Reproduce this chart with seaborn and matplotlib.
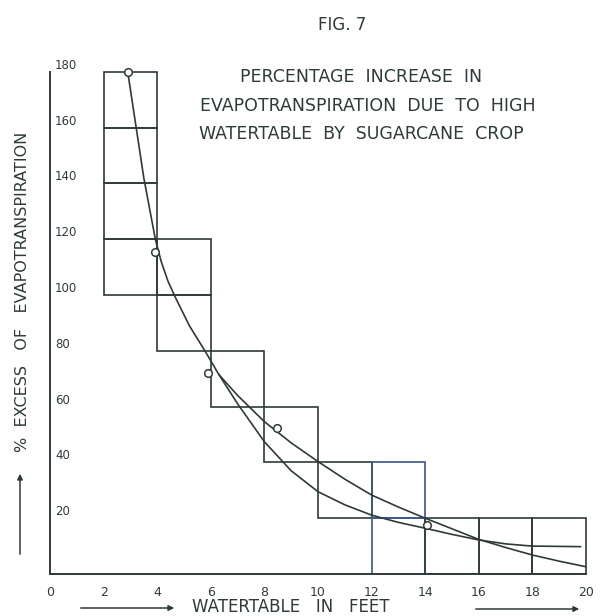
import matplotlib
matplotlib.use("Agg")
import matplotlib.pyplot as plt
import seaborn as sns
import pandas as pd

# Range boxes: each 2-ft band of watertable depth with its low/high % excess
box_left = [2, 4, 6, 8, 10, 12, 14, 16, 18]
box_low = [100, 80, 60, 40, 20, 0, 0, 0, 0]
box_high = [180, 120, 80, 60, 40, 40, 20, 20, 20]
cell = 20

# Observed points
obs_x = [2.9, 3.92, 5.91, 8.46, 14.05]
obs_y = [180, 115.5, 72.2, 52.2, 17.6]

# Fitted curve that levels off
curve_a_x = [2.9, 3.2, 3.5, 3.93, 4.15, 4.4, 4.66, 5.2, 5.78, 6.3, 7.0, 8.0,
             9.0, 10.0, 11.0, 12.0, 13.0, 14.0, 15.0, 16.0, 17.0, 18.0, 19.0,
             19.8]
curve_a_y = [180, 161, 142, 120, 112, 105, 99.5, 89, 80, 71.5, 61, 47.4,
             37, 29.5, 24.8, 21.1, 18.5, 16.4, 14.2, 12.2, 10.8, 10.0, 9.9,
             9.8]

# Fitted curve that runs down to the axis
curve_b_x = [6.3, 7.0, 8.0, 9.0, 10.0, 11.0, 12.0, 13.0, 14.0, 15.0, 16.0,
             17.0, 18.0, 19.0, 20.0]
curve_b_y = [71.5, 64, 54.6, 47, 40.3, 34, 28.3, 24, 20.0, 16.2, 12.4,
             9.5, 6.8, 4.6, 2.6]

x_ticks = list(range(0, 21, 2))
y_ticks = list(range(20, 181, 20))

title_text = "FIG. 7"
note_lines = ["PERCENTAGE  INCREASE  IN",
              "EVAPOTRANSPIRATION  DUE  TO  HIGH",
              "WATERTABLE  BY  SUGARCANE  CROP"]
x_label = "WATERTABLE   IN   FEET"
y_label = "%  EXCESS   OF   EVAPOTRANSPIRATION"

INK = "#2e3a3a"
BLUE = "#3a5688"

sns.set_style("white")
plt.rcParams["font.family"] = ["DejaVu Sans"]

W, H = 608, 616
fig = plt.figure(figsize=(W / 100, H / 100), dpi=100)
ax = fig.add_axes([50 / W, (H - 574) / H, 549.4 / W, 524.5 / H])
ax.set_xlim(0, 20.5)
ax.set_ylim(0, 188)

# range boxes drawn as stacked open cells
for left, lo, hi in zip(box_left, box_low, box_high):
    col = BLUE if left == 12 else INK
    bottoms = list(range(lo, hi, cell))
    ax.bar([left] * len(bottoms), [cell] * len(bottoms), bottom=bottoms,
           width=2, align="edge", fill=False, edgecolor=col, linewidth=1.2,
           zorder=2)

df_a = pd.DataFrame({"x": curve_a_x, "y": curve_a_y})
df_b = pd.DataFrame({"x": curve_b_x, "y": curve_b_y})
sns.lineplot(data=df_a, x="x", y="y", ax=ax, color=INK, lw=1.2, sort=False,
             estimator=None, zorder=3)
sns.lineplot(data=df_b, x="x", y="y", ax=ax, color=INK, lw=1.2, sort=False,
             estimator=None, zorder=3)

df_o = pd.DataFrame({"x": obs_x, "y": obs_y})
sns.scatterplot(data=df_o, x="x", y="y", ax=ax, marker="o", s=30,
                facecolor="white", edgecolor=INK, linewidth=1.1, zorder=4)

ax.set_xlabel("")
ax.set_ylabel("")
for s in ["top", "right"]:
    ax.spines[s].set_visible(False)
for s in ["left", "bottom"]:
    ax.spines[s].set_color(INK)
    ax.spines[s].set_linewidth(1.4)
ax.spines["left"].set_bounds(0, 180)
ax.spines["bottom"].set_bounds(0, 20)

ax.set_xticks(x_ticks)
ax.set_xticklabels([str(v) for v in x_ticks])
ax.set_yticks(y_ticks)
ax.set_yticklabels([str(v) for v in y_ticks])
ax.tick_params(axis="x", direction="inout", length=5, width=1.1, color=INK,
               pad=6, labelsize=9, labelcolor=INK)
ax.tick_params(axis="y", direction="in", length=3, width=1.1, color=INK,
               pad=-3.6, labelsize=8.5, labelcolor=INK)
for lab in ax.get_yticklabels():
    lab.set_horizontalalignment("left")
    lab.set_verticalalignment("bottom")

# headings
fig.text(342 / W, 1 - 25 / H, title_text, ha="center", va="center",
         fontsize=12, color=INK)
for txt, cx, cy in zip(note_lines, [361, 368, 361], [77, 106, 134]):
    fig.text(cx / W, 1 - cy / H, txt, ha="center", va="center",
             fontsize=12.5, color=INK)

# axis titles with arrows
fig.text(291 / W, 9 / H, x_label, ha="center", va="center", fontsize=12,
         color=INK)
fig.text(23 / W, 1 - 292 / H, y_label, ha="center", va="center",
         rotation=90, fontsize=11.5, color=INK)
arrow = dict(arrowstyle="-|>", color=INK, lw=1.1, mutation_scale=8)
ax.annotate("", xy=(177, 8), xytext=(78, 8), xycoords="figure pixels",
            textcoords="figure pixels", arrowprops=arrow)
ax.annotate("", xy=(582, 7), xytext=(473, 7), xycoords="figure pixels",
            textcoords="figure pixels", arrowprops=arrow)
ax.annotate("", xy=(20, 145), xytext=(20, 59), xycoords="figure pixels",
            textcoords="figure pixels", arrowprops=arrow)

fig.savefig("out.png", dpi=100, facecolor="white")
